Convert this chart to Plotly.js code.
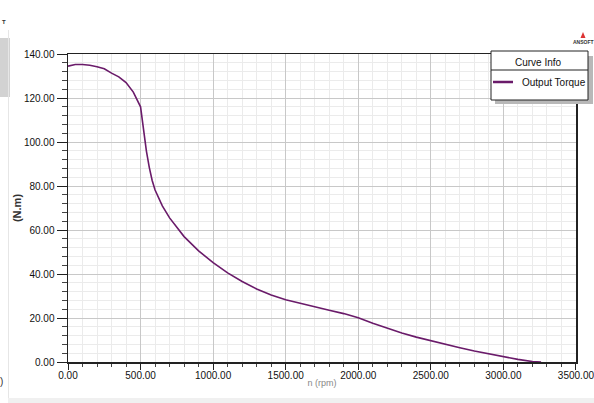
<!DOCTYPE html>
<html>
<head>
<meta charset="utf-8">
<script src="https://cdn.plot.ly/plotly-3.0.1.min.js"></script>
<style>
html,body{margin:0;padding:0;background:#fff;}
#chart{width:594px;height:403px;}
</style>
</head>
<body>
<div id="chart"></div>
<script>
// ---- data ----
const speed = [0,50,100,150,200,250,300,350,400,450,500,520,540,560,580,600,650,700,800,900,1000,1100,1200,1300,1400,1500,1600,1700,1800,1900,1950,2000,2100,2200,2300,2400,2500,2600,2700,2800,2900,3000,3100,3200,3260];
const torque = [134.5,135.2,135.2,134.9,134.2,133.3,131.3,129.6,127.0,122.7,116.0,105.5,96.0,88.5,82.5,78.2,71.0,65.5,57.0,50.5,45.2,40.5,36.6,33.2,30.5,28.3,26.6,25.0,23.5,22.0,21.1,20.1,17.6,15.3,13.2,11.3,9.6,8.0,6.5,5.0,3.7,2.4,1.2,0.2,0];
const seriesName = "Output Torque";
const legendTitle = "Curve Info";
const xTitle = "n (rpm)";
const yTitle = "(N.m)";

const W = 594, H = 403;
const L = 68, R = 18, T = 54, B = 41;
const pw = W - L - R, ph = H - T - B;
const px = v => (v - L) / pw;          // pixel -> paper x
const py = v => (H - B - v) / ph;      // pixel -> paper y

const trace = {
  x: speed, y: torque, type: 'scatter', mode: 'lines', name: seriesName,
  line: {color: '#6a1b6a', width: 1.6}, showlegend: false
};

const font = {family: 'Liberation Sans, Arial, sans-serif', size: 10, color: '#111'};

const layout = {
  width: W, height: H,
  margin: {l: L, r: R, t: T, b: B, pad: 0},
  paper_bgcolor: '#fff', plot_bgcolor: '#fff',
  font: font,
  showlegend: false,
  xaxis: {
    range: [0, 3500.5], dtick: 500, tick0: 0, tickformat: '.2f',
    showgrid: true, gridcolor: '#c8c8c8', gridwidth: 1,
    zeroline: false, showline: true, linecolor: '#222', linewidth: 1.5, mirror: true,
    ticks: 'outside', ticklen: 6, tickcolor: '#222', tickwidth: 1,
    ticklabelstandoff: -3, ticklabeloverflow: 'allow',
    minor: {dtick: 100, showgrid: true, gridcolor: '#ebebeb', gridwidth: 1, ticks: 'outside', ticklen: 3, tickcolor: '#444'},
    tickfont: font,
    title: {text: xTitle, font: {family: 'Liberation Sans, Arial, sans-serif', size: 9, color: '#888'}, standoff: 0}
  },
  yaxis: {
    range: [0, 140], dtick: 20, tick0: 0, tickformat: '.2f',
    showgrid: true, gridcolor: '#c8c8c8', gridwidth: 1,
    zeroline: false, showline: true, linecolor: '#222', linewidth: 1.5, mirror: true,
    ticks: 'outside', ticklen: 10, tickcolor: '#222', tickwidth: 1,
    minor: {dtick: 4, showgrid: true, gridcolor: '#ebebeb', gridwidth: 1, ticks: 'outside', ticklen: 5, tickcolor: '#444'},
    tickfont: font,
    title: {text: '<b>' + yTitle + '</b>', font: {family: 'Liberation Sans, Arial, sans-serif', size: 11, color: '#333'}, standoff: 0}
  },
  shapes: [
    // left UI panel fragments
    {type: 'rect', xref: 'paper', yref: 'paper', x0: px(0), x1: px(10), y0: py(97), y1: py(38), fillcolor: '#d2d2d2', line: {width: 0}, layer: 'below'},
    {type: 'line', xref: 'paper', yref: 'paper', x0: px(8.5), x1: px(8.5), y0: py(398), y1: py(30), line: {color: '#e6e6e6', width: 1}},
    {type: 'rect', xref: 'paper', yref: 'paper', x0: px(8), x1: px(594), y0: py(403), y1: py(398), fillcolor: '#f0f0f0', line: {width: 0}},
    // legend shadow and box
    {type: 'rect', xref: 'paper', yref: 'paper', x0: px(495), x1: px(593), y0: py(104), y1: py(56), fillcolor: '#b8b8b8', line: {width: 0}},
    {type: 'rect', xref: 'paper', yref: 'paper', x0: px(491), x1: px(588), y0: py(100), y1: py(51), fillcolor: '#ffffff', line: {color: '#222', width: 1}},
    {type: 'line', xref: 'paper', yref: 'paper', x0: px(491), x1: px(588), y0: py(70), y1: py(70), line: {color: '#222', width: 1}},
    {type: 'line', xref: 'paper', yref: 'paper', x0: px(493), x1: px(513), y0: py(82), y1: py(82), line: {color: '#6a1b6a', width: 2.5}},
    // ANSOFT logo triangle
    {type: 'path', xref: 'paper', yref: 'paper', path: 'M ' + px(580.5) + ' ' + py(38) + ' L ' + px(585.5) + ' ' + py(38) + ' L ' + px(583) + ' ' + py(32) + ' Z', fillcolor: '#d33', line: {width: 0}}
  ],
  annotations: [
    {xref: 'paper', yref: 'paper', x: px(538), y: py(62), text: legendTitle, showarrow: false, xanchor: 'center', yanchor: 'middle', font: {family: 'Liberation Sans, Arial, sans-serif', size: 10, color: '#111'}},
    {xref: 'paper', yref: 'paper', x: px(520), y: py(82), text: seriesName, showarrow: false, xanchor: 'left', yanchor: 'middle', font: {family: 'Liberation Sans, Arial, sans-serif', size: 10, color: '#111'}},
    {xref: 'paper', yref: 'paper', x: px(583), y: py(42), text: '<b>ANSOFT</b>', showarrow: false, xanchor: 'center', yanchor: 'middle', font: {family: 'Liberation Sans, Arial, sans-serif', size: 5, color: '#333'}},
    {xref: 'paper', yref: 'paper', x: px(0), y: py(22), text: '<b>T</b>', showarrow: false, xanchor: 'left', yanchor: 'middle', font: {family: 'Liberation Sans, Arial, sans-serif', size: 6, color: '#333'}},
    {xref: 'paper', yref: 'paper', x: px(-2), y: py(381), text: ')', showarrow: false, xanchor: 'left', yanchor: 'middle', font: {family: 'Liberation Sans, Arial, sans-serif', size: 10, color: '#333'}}
  ]
};

Plotly.newPlot('chart', [trace], layout, {displayModeBar: false, staticPlot: true});
</script>
</body>
</html>
